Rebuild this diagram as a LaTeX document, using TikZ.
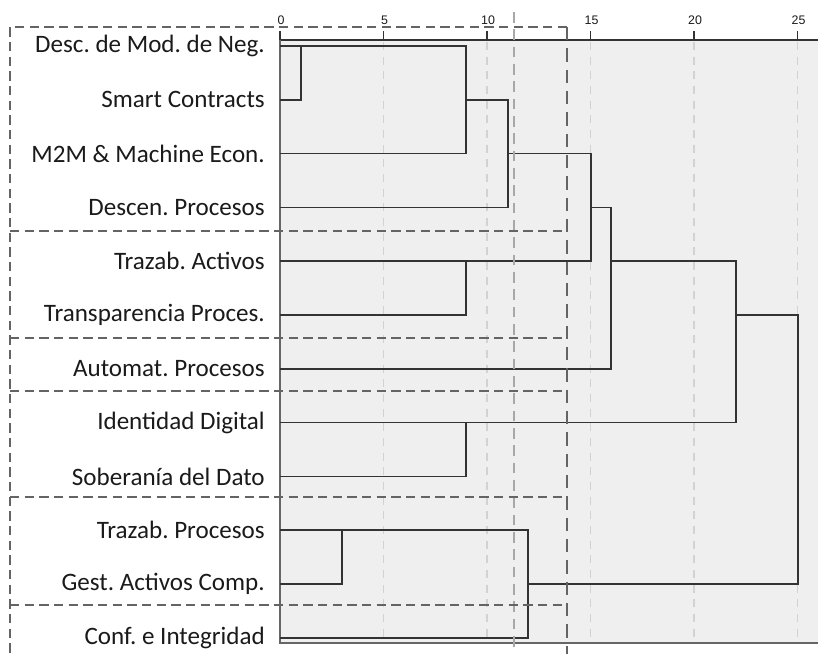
\documentclass[tikz,border=0pt]{standalone}
\usepackage{fontspec}
\setmainfont{Carlito}
\newfontfamily\axisfont{Liberation Sans}
\definecolor{bgcol}{HTML}{EFEFEF}
\definecolor{dendcol}{HTML}{333333}
\definecolor{gridcol}{HTML}{D2D2D2}
\definecolor{grpcol}{HTML}{646464}
\definecolor{cutcol}{HTML}{A8A8A8}
\definecolor{txtcol}{HTML}{1A1A1A}
\frenchspacing
\begin{document}
\begin{tikzpicture}[x=0.75pt,y=-0.75pt,
  lab/.style={anchor=east,inner sep=0pt,text=txtcol,font=\fontsize{18.8pt}{20pt}\selectfont},
  axlab/.style={inner sep=0pt,text=txtcol,font=\axisfont\fontsize{9.3pt}{10pt}\selectfont},
  dend/.style={draw=dendcol,line width=1.3pt},
  gridline/.style={draw=gridcol,line width=0.8pt,dash pattern=on 6pt off 5pt},
  grpline/.style={draw=grpcol,line width=1.5pt,dash pattern=on 7pt off 4pt},
  cutlight/.style={draw=cutcol,line width=1.5pt,dash pattern=on 8pt off 5pt},
  cutdark/.style={draw=grpcol,line width=1.8pt,dash pattern=on 10pt off 6pt}]
\useasboundingbox (0,0) rectangle (818,654);
% background panel
\fill[bgcol] (280,40) rectangle (818,643);
% grid lines
\foreach \u in {5,10,15,20,25}{
  \draw[gridline] ({280+20.7*\u},42) -- ({280+20.7*\u},643);
}
% axis
\draw[dendcol,line width=1.1pt] (280,40) -- (818,40);
\foreach \u in {0,5,10,15,20,25}{
  \draw[dendcol,line width=1pt] ({280+20.7*\u},31) -- ({280+20.7*\u},40);
  \node[axlab] (ax\u) at ({281+20.7*\u},20) {\u};
}
\draw[draw=gray!80!black,line width=1pt] (280,40) -- (280,643) -- (818,643);
% leaf labels
\node[lab] (l1)  at (265,46)    {Desc. de Mod. de Neg.};
\node[lab] (l2)  at (265,99.8)  {Smart Contracts};
\node[lab] (l3)  at (265,153.6) {M2M \& Machine Econ.};
\node[lab] (l4)  at (265,207.4) {Descen. Procesos};
\node[lab] (l5)  at (265,261.2) {Trazab. Activos};
\node[lab] (l6)  at (265,315)   {Transparencia Proces.};
\node[lab] (l7)  at (265,368.8) {Automat. Procesos};
\node[lab] (l8)  at (265,422.6) {Identidad Digital};
\node[lab] (l9)  at (265,476.4) {Soberanía del Dato};
\node[lab] (l10) at (265,530.2) {Trazab. Procesos};
\node[lab] (l11) at (265,584)   {Gest. Activos Comp.};
\node[lab] (l12) at (265,637.8) {Conf. e Integridad};
% dendrogram
\draw[dend] (280,46) -- (466,46) -- (466,153.6) -- (280,153.6);
\draw[dend] (280,99.8) -- (300.7,99.8) -- (300.7,46);
\draw[dend] (466,99.8) -- (508,99.8) -- (508,207.4) -- (280,207.4);
\draw[dend] (508,153.6) -- (591,153.6) -- (591,261.2) -- (280,261.2);
\draw[dend] (280,315) -- (466,315) -- (466,261.2);
\draw[dend] (591,207.4) -- (611,207.4) -- (611,368.8) -- (280,368.8);
\draw[dend] (611,261.2) -- (736,261.2) -- (736,422.6) -- (280,422.6);
\draw[dend] (280,476.4) -- (466,476.4) -- (466,422.6);
\draw[dend] (736,315) -- (798,315) -- (798,584) -- (528,584);
\draw[dend] (280,530.2) -- (528,530.2) -- (528,637.8) -- (280,637.8);
\draw[dend] (280,584) -- (342,584) -- (342,530.2);
% cut lines
\draw[cutlight] (513.5,12) -- (513.5,650);
% group boxes
\draw[grpline] (567,27) -- (10,27) -- (10,654);
\foreach \yy in {231,338,391,497,605}{
  \draw[grpline] (10,\yy) -- (567,\yy);
}
\draw[cutdark] (567,27) -- (567,654);
\end{tikzpicture}
\end{document}
